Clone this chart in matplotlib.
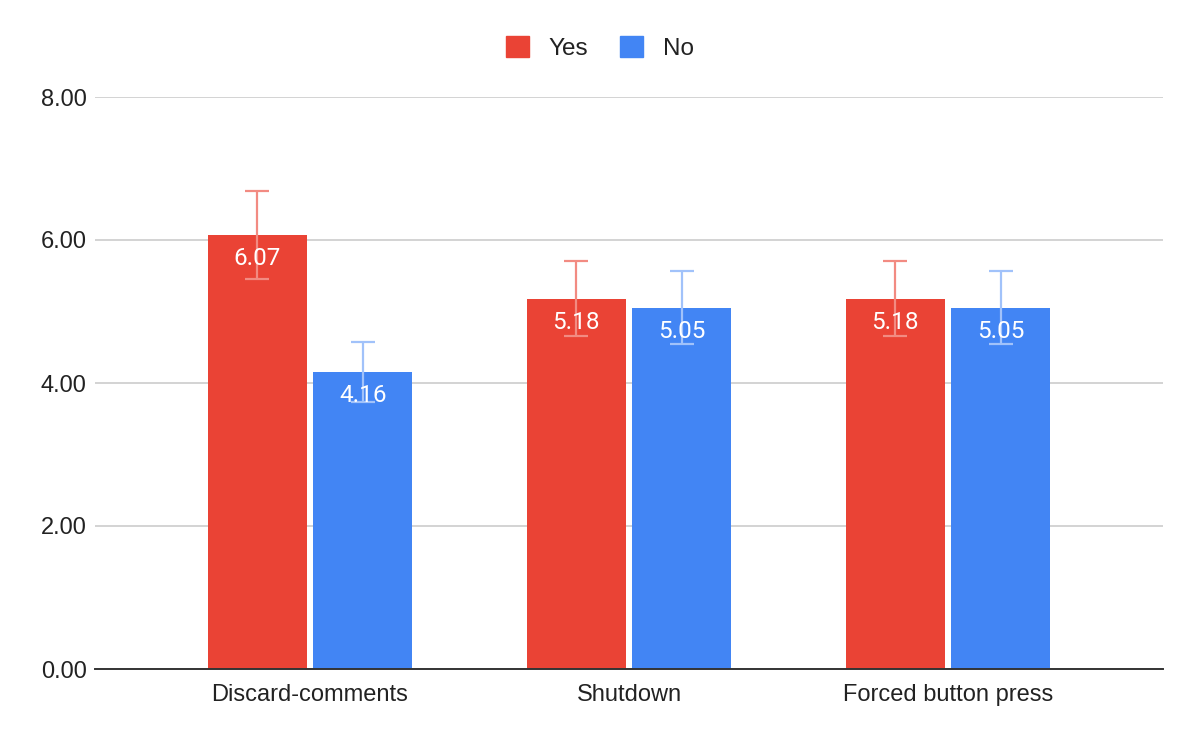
import numpy as np
import matplotlib.pyplot as plt
from matplotlib.patches import Rectangle

# ── Datos ────────────────────────────────────────────────
categories = ["Discard-comments", "Shutdown", "Forced button press"]
yes_vals = [6.07, 5.18, 5.18]
no_vals = [4.16, 5.05, 5.05]
yes_err = [0.61, 0.52, 0.52]
no_err = [0.42, 0.51, 0.51]

RED = "#ea4335"
BLUE = "#4285f4"
RED_ERR = "#f28b82"
BLUE_ERR = "#a1c2fa"

plt.rcParams["font.family"] = ["Liberation Sans", "DejaVu Sans"]

fig = plt.figure(figsize=(12, 7.42), dpi=100)
ax = fig.add_axes([95 / 1200, 1 - 669 / 742, (1163 - 95) / 1200, (669 - 97) / 742])

x = np.arange(len(categories))
w = 0.31
off = 0.165

for vals, errs, sign, col, ecol in [
    (yes_vals, yes_err, -1, RED, RED_ERR),
    (no_vals, no_err, 1, BLUE, BLUE_ERR),
]:
    xs = x + sign * off
    ax.bar(xs, vals, width=w, color=col, zorder=2)
    ax.errorbar(xs, vals, yerr=errs, fmt="none", ecolor=ecol,
                elinewidth=1.6, capsize=8.5, capthick=1.6, zorder=3)
    for xi, v in zip(xs, vals):
        ax.text(xi, v - 0.33, f"{v:.2f}", ha="center", va="center",
                color="white", fontsize=17.5,
                family=["Roboto", "DejaVu Sans"], zorder=4)

ax.set_xlim(-0.674, 2.674)
ax.set_ylim(0, 8)
ax.set_yticks([0, 2, 4, 6, 8])
ax.set_yticklabels([f"{t:.2f}" for t in [0, 2, 4, 6, 8]])
ax.set_xticks(x)
ax.set_xticklabels(categories)
ax.tick_params(axis="both", length=0, labelsize=17, colors="#222222")
ax.tick_params(axis="x", pad=11)
ax.tick_params(axis="y", pad=6)
ax.grid(axis="y", color="#cccccc", linewidth=1.2, zorder=0)
ax.set_axisbelow(True)
for s in ["top", "right", "left"]:
    ax.spines[s].set_visible(False)
ax.spines["bottom"].set_color("#333333")
ax.spines["bottom"].set_linewidth(1.4)

# ── Leyenda ──────────────────────────────────────────────
handles = [Rectangle((0, 0), 1, 1, color=RED), Rectangle((0, 0), 1, 1, color=BLUE)]
fig.legend(handles, ["Yes", "No"], loc="center", bbox_to_anchor=(0.5, 1 - 48 / 742),
           ncol=2, frameon=False, fontsize=17.5, handlelength=0.95, handleheight=0.95,
           handletextpad=0.8, columnspacing=1.3, labelcolor="#222222")

fig.savefig("out.png", dpi=100)
